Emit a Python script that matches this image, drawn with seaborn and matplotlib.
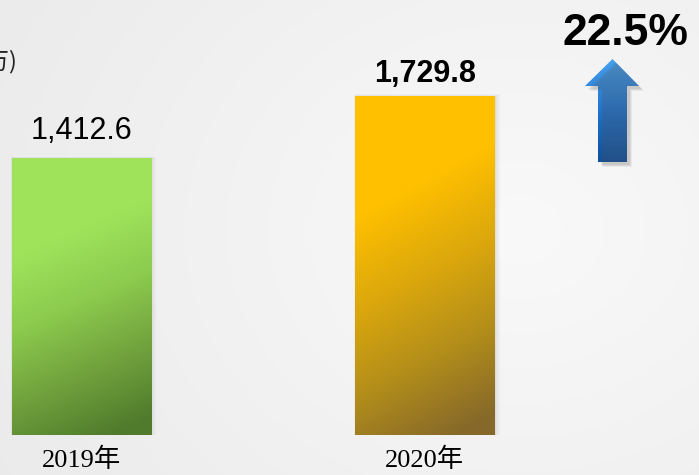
import numpy as np
import pandas as pd
import seaborn as sns
import matplotlib.pyplot as plt
from matplotlib.colors import LinearSegmentedColormap
from matplotlib.patches import Polygon, Rectangle

years = ["2019年", "2020年"]
revenue = [1412.6, 1729.8]
value_labels = ["1,412.6", "1,729.8"]
label_weights = ["normal", "bold"]
label_offsets = [13.7, 9.9]  # points above bar top
unit_text = "(单位：百万)"

sns.set_theme(style="white")
plt.rcParams["font.family"] = ["Liberation Sans", "Noto Sans CJK SC", "DejaVu Sans"]

W, H = 699, 475
fig = plt.figure(figsize=(W / 100, H / 100), dpi=100)

# soft grey background
bg = fig.add_axes([0, 0, 1, 1], zorder=0)
yy, xx = np.mgrid[0:H, 0:W]
r = np.sqrt(((xx - 520) / 560) ** 2 + ((yy - 230) / 460) ** 2)
bg.imshow(r, cmap=LinearSegmentedColormap.from_list("bg", ["#f9f9f9", "#e9e9e9"]),
          vmin=0, vmax=1.2, aspect="auto", extent=(0, W, H, 0))
bg.set_axis_off()

ax = fig.add_axes([0, 40 / H, 1, 435 / H], zorder=1)
ax.patch.set_alpha(0)
df = pd.DataFrame({"year": years, "revenue": revenue})
sns.barplot(data=df, x="year", y="revenue", ax=ax, width=0.405, color="#cccccc")

bar_cmaps = [
    LinearSegmentedColormap.from_list("g", ["#9fe35b", "#8ccb4e", "#71a23d", "#507b2c"]),
    LinearSegmentedColormap.from_list("y", ["#ffc000", "#dca80c", "#b38e1a", "#86692a"]),
]
gv, gu = np.mgrid[0:1:200j, 0:1:60j]
for p, cmap in zip(ax.patches, bar_cmaps):
    x, w, h = p.get_x(), p.get_width(), p.get_height()
    # soft shadow
    for k, a in [(0.012, 0.06), (0.007, 0.08), (0.003, 0.1)]:
        ax.add_patch(Rectangle((x - k * 0.3, 0), w + k * 1.6, h + k * 600,
                               facecolor="#888888", alpha=a, lw=0, zorder=0.5))
    p.set_facecolor("none")
    p.set_edgecolor("none")
    t = np.clip((gv + 0.22 * gu - 0.36) / 0.8, 0, 1)
    im = ax.imshow(t, cmap=cmap, vmin=0, vmax=1, aspect="auto",
                   extent=(x, x + w, 0, h), zorder=2)
    im.set_clip_path(p)

for p, lab, wt, off in zip(ax.patches, value_labels, label_weights, label_offsets):
    ax.annotate(lab, (p.get_x() + p.get_width() / 2, p.get_height()),
                xytext=(0, off), textcoords="offset points", ha="center",
                va="baseline", fontsize=22, fontweight=wt, color="black")

ax.set_xlim(-0.237, 1.798)
ax.set_ylim(0, 2219)
ax.set_xlabel("")
ax.set_ylabel("")
ax.set_yticks([])
ax.tick_params(axis="x", length=0, pad=9, labelsize=19, labelcolor="black")
for lab in ax.get_xticklabels():
    lab.set_fontfamily(["Liberation Serif", "Noto Sans CJK SC"])
sns.despine(ax=ax, left=True, bottom=True)

# growth arrow and percentage
growth = (revenue[1] / revenue[0] - 1) * 100
fig.text(625 / W, 1 - 45 / H, f"{growth:.1f}%", ha="center", va="baseline",
         fontsize=32, fontweight="bold", color="black")
fig.text(18 / W, 1 - 61 / H, unit_text, ha="right", va="center", fontsize=17,
         color="#222222", family=["Noto Sans CJK SC", "DejaVu Sans"])

ov = fig.add_axes([0, 0, 1, 1], zorder=3)
ov.patch.set_alpha(0)
arrow = [(598, 162), (598, 86), (585, 86), (612.5, 59), (639, 86), (627, 86), (627, 162)]
for dx, a in [(5, 0.08), (4, 0.1), (3, 0.12)]:
    ov.add_patch(Polygon([(px + dx, py + dx) for px, py in arrow], closed=True,
                         facecolor="#555555", alpha=a, lw=0))
poly = Polygon(arrow, closed=True, facecolor="none", lw=0)
ov.add_patch(poly)
grad = np.linspace(0, 1, 200)[:, None] * np.ones((1, 10))
im = ov.imshow(grad, cmap=LinearSegmentedColormap.from_list("b", ["#48a0ec", "#1f74d0", "#0f4f9c"]),
               aspect="auto", extent=(585, 639, 162, 59))
im.set_clip_path(poly)
ov.set_xlim(0, W)
ov.set_ylim(H, 0)
ov.set_axis_off()

fig.savefig("out.png", dpi=100)
